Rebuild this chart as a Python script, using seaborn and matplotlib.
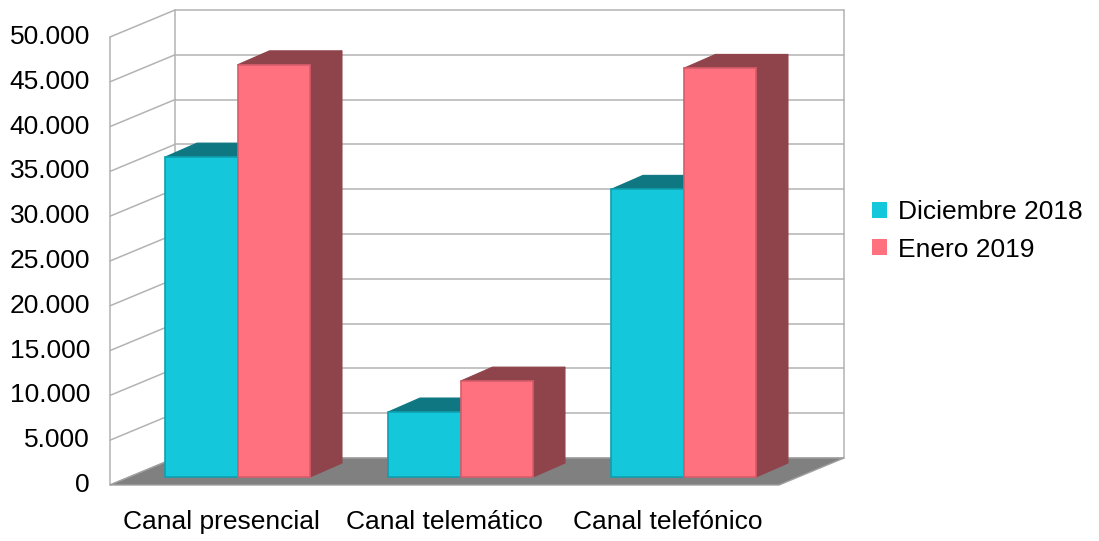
import numpy as np
import pandas as pd
import matplotlib
matplotlib.use("Agg")
import matplotlib.pyplot as plt
import matplotlib.transforms as mtransforms
from matplotlib.patches import Polygon, Patch
import seaborn as sns

# ---- data ----
categories = ["Canal presencial", "Canal telemático", "Canal telefónico"]
series = ["Diciembre 2018", "Enero 2019"]
dic_2018 = [35700, 7250, 32100]
ene_2019 = [46000, 10700, 45600]
yticks = list(range(0, 50001, 5000))

# ---- styles ----
front_cols = ["#14C7DB", "#FF717F"]
dark_cols = ["#0E7782", "#8F444B"]
edge_cols = ["#0E9FB0", "#D85C6A"]
grid_col = "#B3B3B3"
floor_col = "#808080"
FS = 19

sns.set_theme(style="white")
plt.rcParams["font.family"] = ["Liberation Sans", "DejaVu Sans"]
plt.rcParams["text.color"] = "black"

df = pd.DataFrame({
    "canal": categories * 2,
    "serie": [series[0]] * 3 + [series[1]] * 3,
    "valor": dic_2018 + ene_2019,
})

W, H = 1099, 541
fig = plt.figure(figsize=(W / 100, H / 100), dpi=100)
fig.patch.set_facecolor("white")

# front plane of the bars (pixel layout)
ax_l, ax_r, ax_b, ax_t = 126, 795, 477, 29  # image px
ax = fig.add_axes([ax_l / W, (H - ax_b) / H, (ax_r - ax_l) / W, (ax_b - ax_t) / H])

sns.barplot(data=df, x="canal", y="valor", hue="serie", palette=front_cols,
            width=0.65, saturation=1, ax=ax, legend=False, linewidth=1.2,
            edgecolor="none")
ax.set_xlim(-0.5, 2.5)
ax.set_ylim(0, 50000)
ax.axis("off")

ppx = (ax_r - ax_l) / 3.0          # px per category unit
ppy = (ax_b - ax_t) / 50000.0      # px per value unit
def dx(p):
    return p / ppx
def dy(p):
    return p / ppy

# oblique offsets (px, matplotlib-up positive)
fx, fy = dx(-16), dy(-8)     # floor front / left wall front
bx, by = dx(49), dy(19)      # back wall
ddx, ddy = dx(32), dy(14)    # bar depth

# walls & grid
for v in yticks:
    ax.plot([-0.5 + bx, 2.5 + bx], [v + by, v + by], color=grid_col, lw=1.1,
            zorder=0, clip_on=False)
    ax.plot([-0.5 + fx, -0.5 + bx], [v + fy, v + by], color=grid_col, lw=1.1,
            zorder=0, clip_on=False)
for xx, yy in [(-0.5 + bx, by), (2.5 + bx, by), (-0.5 + fx, fy)]:
    ax.plot([xx, xx], [yy, 50000 + yy], color=grid_col, lw=1.1, zorder=0,
            clip_on=False)

# floor
floor = Polygon([(-0.5 + fx, fy), (2.5 + fx, fy), (2.5 + bx, by), (-0.5 + bx, by)],
                closed=True, facecolor=floor_col, edgecolor="#A0A0A0", lw=1,
                zorder=1, clip_on=False)
ax.add_patch(floor)

# 3D bar faces
for k, cont in enumerate(ax.containers):
    for p in cont.patches:
        x0, w, h = p.get_x(), p.get_width(), p.get_height()
        p.set_zorder(3 + 2 * k)
        p.set_edgecolor(edge_cols[k])
        p.set_clip_on(False)
        top = Polygon([(x0, h), (x0 + w, h), (x0 + w + ddx, h + ddy), (x0 + ddx, h + ddy)],
                      closed=True, facecolor=dark_cols[k], edgecolor=dark_cols[k],
                      lw=0.8, zorder=2 + 2 * k, clip_on=False)
        side = Polygon([(x0 + w, 0), (x0 + w + ddx, ddy), (x0 + w + ddx, h + ddy), (x0 + w, h)],
                       closed=True, facecolor=dark_cols[k], edgecolor=dark_cols[k],
                       lw=0.8, zorder=2 + 2 * k, clip_on=False)
        ax.add_patch(top)
        ax.add_patch(side)

# y tick labels
lab_tr = mtransforms.offset_copy(ax.transData, fig=fig, x=-20, y=0, units="dots")
for v in yticks:
    ax.text(-0.5 + fx, v + fy, f"{v:,}".replace(",", "."), transform=lab_tr,
            ha="right", va="center", fontsize=FS, color="black", clip_on=False)

# category labels
cat_tr = mtransforms.offset_copy(ax.transData, fig=fig, x=0, y=-37, units="dots")
for i, c in enumerate(categories):
    ax.text(i + fx, fy, c, transform=cat_tr, ha="center", va="center",
            fontsize=FS, color="black", clip_on=False)

# legend
handles = [Patch(facecolor=front_cols[i], edgecolor="none", label=series[i]) for i in range(2)]
fig.legend(handles=handles, loc="center left", bbox_to_anchor=(872 / W, 1 - 231 / H),
           frameon=False, fontsize=FS, handlelength=0.58, handleheight=0.58,
           handletextpad=0.42, labelspacing=0.5, borderpad=0, borderaxespad=0,
           labelcolor="black")

fig.savefig("out.png", dpi=100, facecolor="white")
